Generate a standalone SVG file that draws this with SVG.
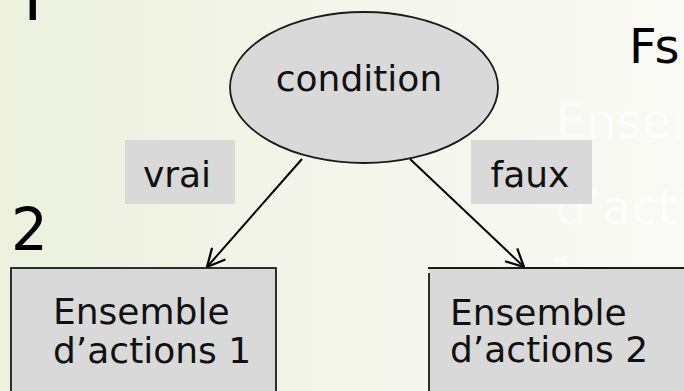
<svg xmlns="http://www.w3.org/2000/svg" width="684" height="391" viewBox="0 0 684 391">
  <defs>
    <linearGradient id="bg" x1="0" y1="0" x2="1" y2="0">
      <stop offset="0" stop-color="#ecf0dd"/>
      <stop offset="0.45" stop-color="#f3f5ea"/>
      <stop offset="1" stop-color="#f9faf5"/>
    </linearGradient>
    <clipPath id="ghostclip">
      <rect x="0" y="0" width="684" height="268"/>
    </clipPath>
    <marker id="arrow" markerUnits="userSpaceOnUse" markerWidth="20" markerHeight="20" viewBox="0 0 18 18" refX="17" refY="9" orient="auto">
      <path d="M1,1 L17,9 L1,17" fill="none" stroke="#000" stroke-width="2"/>
    </marker>
  </defs>
  <style>
    .lbl { font-family: "DejaVu Sans", "Liberation Sans", sans-serif; fill: #111; }
    .big { font-size: 36px; }
    .shape { fill: #d9d9d9; stroke: #1a1a1a; stroke-width: 1.8; }
    .tag { fill: #d9d9d9; }
    .edge { stroke: #000; stroke-width: 2; fill: none; marker-end: url(#arrow); }
    .ghost { font-family: "DejaVu Sans", sans-serif; font-size: 48px; fill: #ffffff; fill-opacity: 0.6; }
  </style>
  <rect x="0" y="0" width="684" height="391" fill="url(#bg)"/>

  <!-- faint background text -->
  <g id="ghost" clip-path="url(#ghostclip)">
    <text class="ghost" x="556" y="138">Ensemble</text>
    <text class="ghost" x="556" y="224">d’actions</text>
    <text class="ghost" x="548" y="292">1</text>
  </g>

  <!-- slide numbers / fragments -->
  <text x="11" y="20" style="font-family: Roboto, 'Liberation Sans', sans-serif; font-size: 70px; fill: #000;">1</text>
  <text x="11" y="250" style="font-family: 'DejaVu Sans', sans-serif; font-size: 58px; fill: #000;">2</text>
  <text x="629" y="63" style="font-family: 'DejaVu Sans', sans-serif; font-size: 48px; letter-spacing: -2px; fill: #000;">Fs</text>

  <g id="connectors">
    <line class="edge" x1="302" y1="159" x2="207" y2="267"/>
    <line class="edge" x1="410" y1="159" x2="524" y2="267"/>
  </g>

  <g id="condition">
    <ellipse class="shape" cx="364" cy="87.5" rx="134" ry="75.5"/>
    <text class="lbl big" x="359" y="91" text-anchor="middle">condition</text>
  </g>

  <g id="label-vrai">
    <rect class="tag" x="125" y="140" width="110" height="64"/>
    <text class="lbl big" x="177" y="187" text-anchor="middle">vrai</text>
  </g>

  <g id="label-faux">
    <rect class="tag" x="471" y="140" width="121" height="64"/>
    <text class="lbl big" x="530" y="187" text-anchor="middle">faux</text>
  </g>

  <g id="actions1">
    <rect class="shape" x="11" y="268" width="265" height="140"/>
    <text class="lbl big" x="53" y="324">Ensemble</text>
    <text class="lbl big" x="53" y="363">d’actions 1</text>
  </g>

  <g id="actions2">
    <rect x="429" y="268" width="270" height="140" fill="#d9d9d9"/>
    <path d="M429,273 L429,400 M428,268 L690,268" fill="none" stroke="#1a1a1a" stroke-width="1.8"/>
    <text class="lbl big" x="450" y="325">Ensemble</text>
    <text class="lbl big" x="450" y="362">d’actions 2</text>
  </g>
</svg>
